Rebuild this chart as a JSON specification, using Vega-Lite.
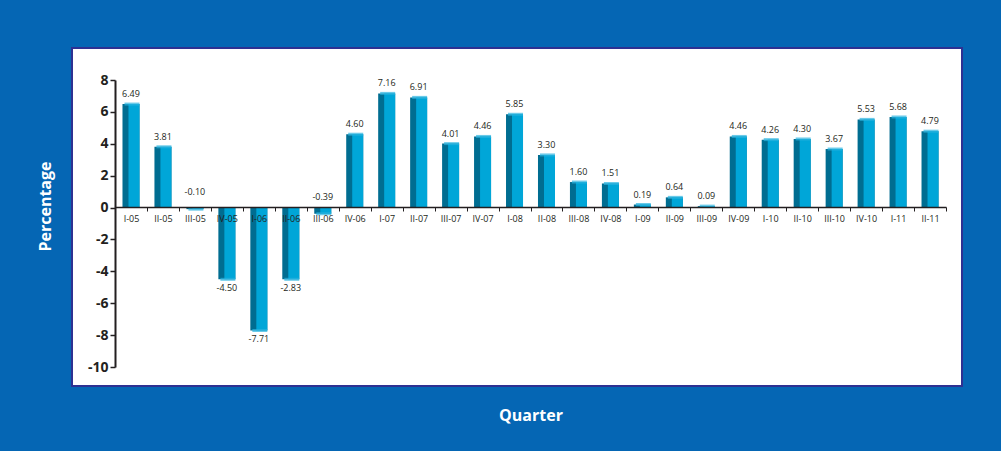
{
  "$schema": "https://vega.github.io/schema/vega-lite/v6.json",
  "width": 890,
  "height": 338,
  "autosize": {"type": "none"},
  "padding": {"left": 72, "top": 48, "right": 39, "bottom": 65},
  "background": "#0566b4",
  "config": {
    "view": {"fill": "white", "stroke": "#2e3192", "strokeWidth": 2},
    "font": "Open Sans"
  },
  "data": {
    "values": [
      {"q": "I-05", "v": 6.49, "label": "6.49"},
      {"q": "II-05", "v": 3.81, "label": "3.81"},
      {"q": "III-05", "v": -0.10, "label": "-0.10"},
      {"q": "IV-05", "v": -4.50, "label": "-4.50"},
      {"q": "I-06", "v": -7.71, "label": "-7.71"},
      {"q": "II-06", "v": -4.50, "label": "-2.83"},
      {"q": "III-06", "v": -0.39, "label": "-0.39"},
      {"q": "IV-06", "v": 4.60, "label": "4.60"},
      {"q": "I-07", "v": 7.16, "label": "7.16"},
      {"q": "II-07", "v": 6.91, "label": "6.91"},
      {"q": "III-07", "v": 4.01, "label": "4.01"},
      {"q": "IV-07", "v": 4.46, "label": "4.46"},
      {"q": "I-08", "v": 5.85, "label": "5.85"},
      {"q": "II-08", "v": 3.30, "label": "3.30"},
      {"q": "III-08", "v": 1.60, "label": "1.60"},
      {"q": "IV-08", "v": 1.51, "label": "1.51"},
      {"q": "I-09", "v": 0.19, "label": "0.19"},
      {"q": "II-09", "v": 0.64, "label": "0.64"},
      {"q": "III-09", "v": 0.09, "label": "0.09"},
      {"q": "IV-09", "v": 4.46, "label": "4.46"},
      {"q": "I-10", "v": 4.26, "label": "4.26"},
      {"q": "II-10", "v": 4.30, "label": "4.30"},
      {"q": "III-10", "v": 3.67, "label": "3.67"},
      {"q": "IV-10", "v": 5.53, "label": "5.53"},
      {"q": "I-11", "v": 5.68, "label": "5.68"},
      {"q": "II-11", "v": 4.79, "label": "4.79"}
    ]
  },
  "encoding": {
    "x": {
      "field": "q",
      "type": "nominal",
      "sort": null,
      "scale": {"rangeMin": 43, "rangeMax": 874, "paddingInner": 0, "paddingOuter": 0},
      "axis": {
        "title": "Quarter",
        "titleColor": "white",
        "titleFontSize": 16,
        "titleFontWeight": "bold",
        "titleBaseline": "middle",
        "titleY": 208,
        "offset": -179,
        "labelAngle": 0,
        "labelFontSize": 9,
        "labelColor": "#231f20",
        "labelPadding": 3,
        "tickSize": 4,
        "tickBand": "extent",
        "tickColor": "#231f20",
        "domainColor": "#231f20",
        "domainWidth": 1.5,
        "zindex": 1
      }
    },
    "y": {
      "field": "v",
      "type": "quantitative",
      "scale": {"domain": [-10, 8], "range": [319, 32], "nice": false, "zero": false},
      "axis": {
        "title": "Percentage",
        "titleColor": "white",
        "titleFontSize": 16,
        "titleFontWeight": "bold",
        "titleX": -62,
        "titleY": 158,
        "offset": -43,
        "values": [-10, -8, -6, -4, -2, 0, 2, 4, 6, 8],
        "labelExpr": "datum.value < 0 ? '-' + abs(datum.value) : '' + datum.value",
        "grid": false,
        "labelFontSize": 14,
        "labelFontWeight": "bold",
        "labelColor": "#231f20",
        "tickSize": 5,
        "tickWidth": 1.5,
        "tickColor": "#231f20",
        "domainColor": "#231f20",
        "domainWidth": 2
      }
    }
  },
  "layer": [
    {
      "mark": {"type": "bar", "color": "#006d91", "width": 17},
      "encoding": {"y2": {"datum": 0}}
    },
    {
      "mark": {"type": "bar", "color": "#00a6d8", "width": 11, "xOffset": 3},
      "encoding": {"y2": {"datum": 0}}
    },
    {
      "mark": {"type": "tick", "color": "#29b3e0", "size": 15, "thickness": 3, "xOffset": 1, "orient": "horizontal"}
    },
    {
      "transform": [{"filter": "datum.v >= 0"}],
      "mark": {"type": "text", "baseline": "bottom", "dy": -5, "fontSize": 9, "color": "#231f20"},
      "encoding": {"text": {"field": "label"}}
    },
    {
      "transform": [{"filter": "datum.v < 0 && datum.v >= -0.5"}],
      "mark": {"type": "text", "baseline": "bottom", "dy": -12, "fontSize": 9, "color": "#231f20"},
      "encoding": {"text": {"field": "label"}}
    },
    {
      "transform": [{"filter": "datum.v < -0.5"}],
      "mark": {"type": "text", "baseline": "top", "dy": 5, "fontSize": 9, "color": "#231f20"},
      "encoding": {"text": {"field": "label"}}
    }
  ]
}
